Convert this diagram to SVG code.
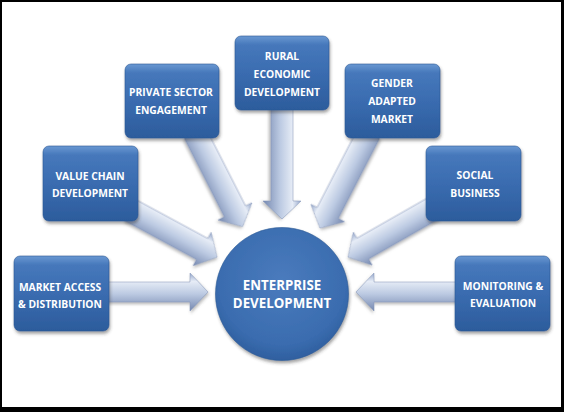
<svg xmlns="http://www.w3.org/2000/svg" width="564" height="412" viewBox="0 0 564 412">
<defs>
<linearGradient id="boxg" x1="0" y1="0" x2="0" y2="1">
<stop offset="0" stop-color="#6a98d2"/>
<stop offset="0.12" stop-color="#4678bb"/>
<stop offset="0.5" stop-color="#3a6cb0"/>
<stop offset="1" stop-color="#2c5c9c"/>
</linearGradient>
<radialGradient id="circg" cx="0.5" cy="0.4" r="0.6">
<stop offset="0" stop-color="#4a7bbd"/>
<stop offset="0.8" stop-color="#3a6caf"/>
<stop offset="1" stop-color="#2f5f9f"/>
</radialGradient>
<linearGradient id="arrg" x1="0" y1="0" x2="0" y2="1">
<stop offset="0" stop-color="#95a7cb"/>
<stop offset="0.22" stop-color="#e6ecf6"/>
<stop offset="0.55" stop-color="#bccae2"/>
<stop offset="1" stop-color="#7588b0"/>
</linearGradient>
<filter id="sh" x="-20%" y="-20%" width="140%" height="150%">
<feDropShadow dx="1" dy="2.5" stdDeviation="1.8" flood-color="#333" flood-opacity="0.45"/>
</filter>
<filter id="ash" x="-20%" y="-30%" width="140%" height="160%">
<feDropShadow dx="1" dy="2" stdDeviation="1.5" flood-color="#555" flood-opacity="0.4"/>
</filter>
</defs>
<style>
.box{fill:url(#boxg);stroke:#2a5894;stroke-width:0.6;filter:url(#sh)}
.arr{fill:url(#arrg);stroke:#8192b6;stroke-width:0.5;filter:url(#ash)}
text{font-family:"Open Sans","Liberation Sans",sans-serif;font-weight:bold;font-size:10.3px;fill:#ffffff;text-anchor:middle}
.big{font-size:13.3px}
</style>
<rect x="0" y="0" width="564" height="412" fill="#000"/>
<rect x="2" y="2" width="559" height="405" fill="#fff"/>
<g id="connectors">
<path class="arr" transform="translate(100,292)" d="M0,-10 L90,-10 L90,-19 L108,0 L90,19 L90,10 L0,10 Z"/>
<path class="arr" transform="translate(465,292) scale(-1,1)" d="M0,-10 L91,-10 L91,-19 L109,0 L91,19 L91,10 L0,10 Z"/>
<path class="arr" transform="translate(282,105) rotate(90)" d="M0,-11 L96,-11 L96,-19 L114,0 L96,19 L96,11 L0,11 Z"/>
<path class="arr" transform="translate(195,133) rotate(63)" d="M0,-12 L88,-12 L88,-19 L105,0 L88,19 L88,12 L0,12 Z"/>
<path class="arr" transform="translate(369,133) scale(-1,1) rotate(62.7)" d="M0,-12 L90,-12 L90,-19 L107,0 L90,19 L90,12 L0,12 Z"/>
<path class="arr" transform="translate(130,210) rotate(28.4)" d="M0,-12 L82,-12 L82,-19 L99,0 L82,19 L82,12 L0,12 Z"/>
<path class="arr" transform="translate(434,208) scale(-1,1) rotate(29.7)" d="M0,-12 L82,-12 L82,-19 L99,0 L82,19 L82,12 L0,12 Z"/>
</g>
<g id="enterprise">
<circle cx="282" cy="294" r="66.5" fill="url(#circg)" stroke="#2c5a96" stroke-width="0.6" filter="url(#sh)"/>
<text class="big" x="282" y="290">ENTERPRISE</text>
<text class="big" x="282" y="308">DEVELOPMENT</text>
</g>
<g id="market">
<rect class="box" x="14" y="256" width="95" height="75" rx="6"/>
<text x="60" y="291">MARKET ACCESS</text>
<text x="60" y="308">&amp; DISTRIBUTION</text>
</g>
<g id="valuechain">
<rect class="box" x="43" y="146" width="95" height="75" rx="6"/>
<text x="90" y="180">VALUE CHAIN</text>
<text x="90" y="197">DEVELOPMENT</text>
</g>
<g id="private">
<rect class="box" x="125" y="64" width="94" height="74" rx="6"/>
<text x="171" y="96">PRIVATE SECTOR</text>
<text x="171" y="114">ENGAGEMENT</text>
</g>
<g id="rural">
<rect class="box" x="235" y="36" width="94" height="74" rx="6"/>
<text x="282" y="60">RURAL</text>
<text x="282" y="78">ECONOMIC</text>
<text x="282" y="96">DEVELOPMENT</text>
</g>
<g id="gender">
<rect class="box" x="345" y="64" width="95" height="74" rx="6"/>
<text x="392" y="87">GENDER</text>
<text x="392" y="105">ADAPTED</text>
<text x="392" y="123">MARKET</text>
</g>
<g id="social">
<rect class="box" x="426" y="146" width="95" height="75" rx="6"/>
<text x="475" y="179">SOCIAL</text>
<text x="475" y="197">BUSINESS</text>
</g>
<g id="monitoring">
<rect class="box" x="455" y="256" width="95" height="75" rx="6"/>
<text x="503" y="290">MONITORING &amp;</text>
<text x="503" y="307">EVALUATION</text>
</g>
</svg>
